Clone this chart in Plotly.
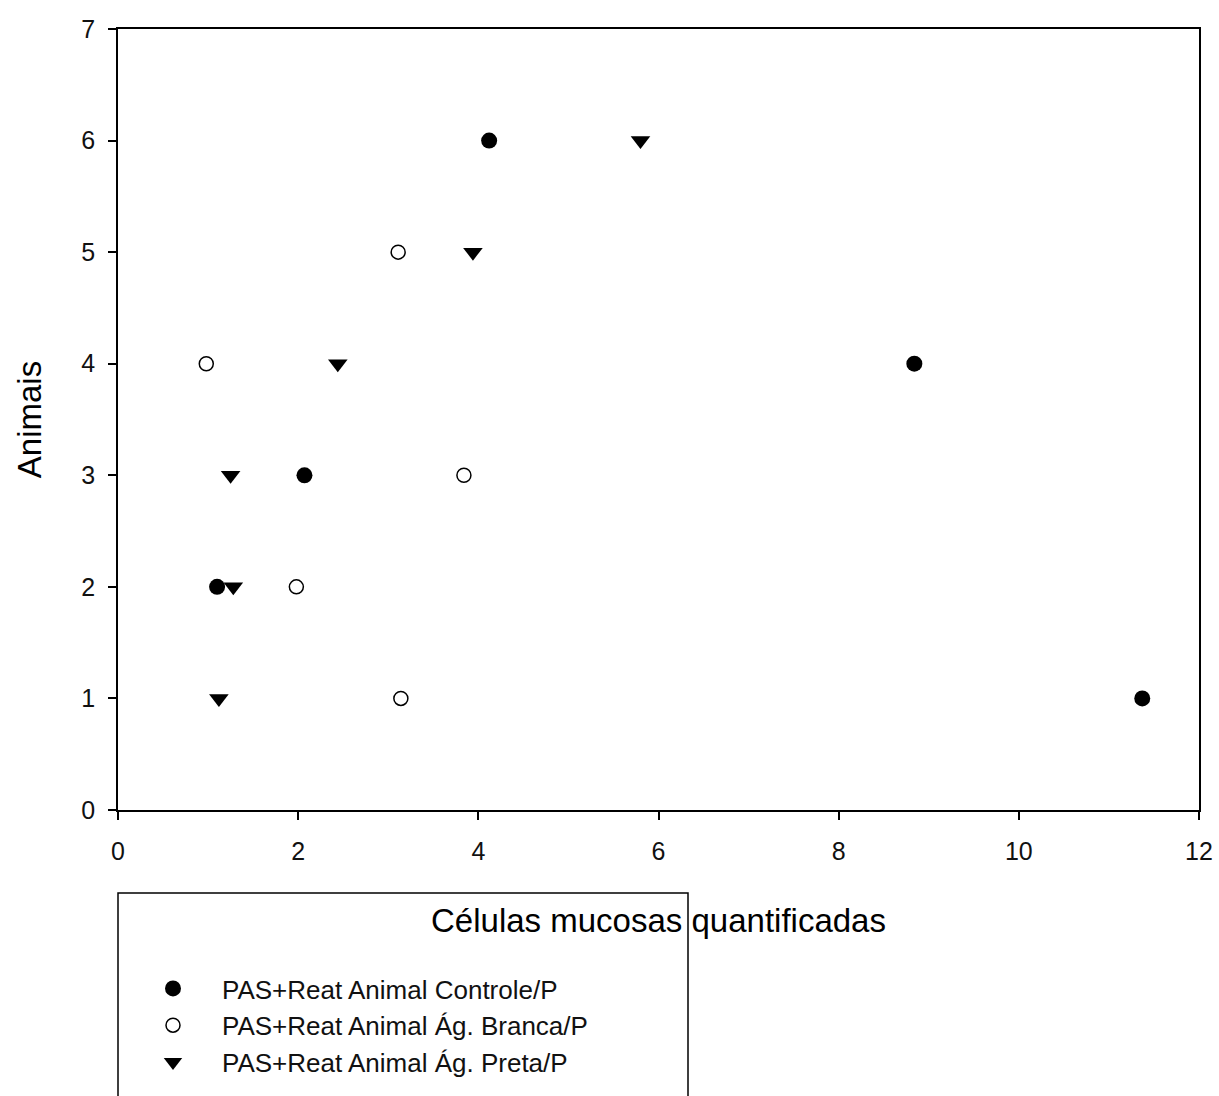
import plotly.graph_objects as go

# Data
controle_x = [11.37, 1.10, 2.07, 8.84, 4.12]
controle_y = [1, 2, 3, 4, 6]

branca_x = [3.14, 1.98, 3.84, 0.98, 3.11]
branca_y = [1, 2, 3, 4, 5]

preta_x = [1.12, 1.28, 1.25, 2.44, 3.94, 5.80]
preta_y = [1, 2, 3, 4, 5, 6]

names = ["PAS+Reat Animal Controle/P",
         "PAS+Reat Animal Ág. Branca/P",
         "PAS+Reat Animal Ág. Preta/P"]

x_ticks = [0, 2, 4, 6, 8, 10, 12]
y_ticks = [0, 1, 2, 3, 4, 5, 6, 7]

FONT = "Liberation Sans, Arial, sans-serif"

fig = go.Figure()
fig.add_trace(go.Scatter(x=controle_x, y=controle_y, mode="markers", name=names[0],
                         marker=dict(symbol="circle", size=16, color="black",
                                     line=dict(width=0))))
fig.add_trace(go.Scatter(x=branca_x, y=branca_y, mode="markers", name=names[1],
                         marker=dict(symbol="circle-open", size=14, color="black",
                                     line=dict(width=1.5, color="black"))))
fig.add_trace(go.Scatter(x=preta_x, y=preta_y, mode="markers", name=names[2],
                         marker=dict(symbol="triangle-down", size=17, color="black",
                                     line=dict(width=0))))

axis_common = dict(showgrid=False, zeroline=False, showline=True, linecolor="black",
                   linewidth=1.5, mirror=True, ticks="outside", ticklen=8,
                   tickwidth=1.5, tickcolor="black",
                   tickfont=dict(family=FONT, size=25, color="#111"))

fig.update_xaxes(range=[0, 12], tickvals=x_ticks, ticklabelstandoff=10,
                 title=dict(text="Células mucosas quantificadas", standoff=45,
                            font=dict(family=FONT, size=33, color="black")),
                 **axis_common)
fig.update_yaxes(range=[0, 7], tickvals=y_ticks, ticklabelstandoff=8,
                 title=dict(text="Animais", standoff=30,
                            font=dict(family=FONT, size=33, color="black")),
                 **axis_common)

# legend frame (extends past the bottom edge as in the reference)
fig.add_shape(type="rect", xref="paper", yref="paper",
              x0=0, x1=(688 - 118) / 1081, y0=(810 - 893) / 781, y1=(810 - 1110) / 781,
              line=dict(color="black", width=1.5), fillcolor="rgba(0,0,0,0)")

fig.update_layout(
    width=1219, height=1096,
    margin=dict(l=118, r=20, t=29, b=286, autoexpand=False),
    paper_bgcolor="white", plot_bgcolor="white",
    showlegend=True,
    legend=dict(x=(124 - 118) / 1081, y=(810 - 965) / 781, xanchor="left", yanchor="top",
                bgcolor="rgba(0,0,0,0)", borderwidth=0, itemwidth=88,
                font=dict(family=FONT, size=26, color="#111"),
                tracegroupgap=0),
)

fig.write_html("out.html")
